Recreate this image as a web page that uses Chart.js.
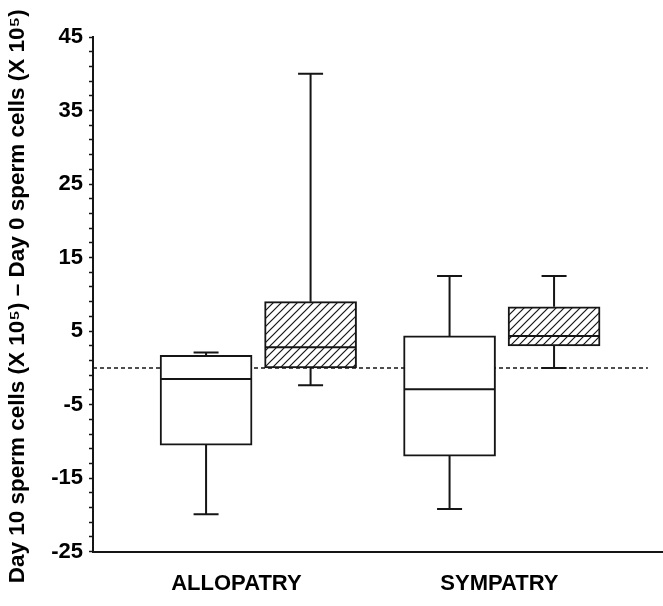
<!DOCTYPE html>
<html>
<head>
<meta charset="utf-8">
<script src="https://cdn.jsdelivr.net/npm/chart.js@4/dist/chart.umd.min.js"></script>
<style>
  body { margin: 0; background: #fff; }
  canvas { display: block; }
</style>
</head>
<body>
<canvas id="chart" width="663" height="606"></canvas>
<script>
// Data (units: X 10^5 cells)
const categories = ['ALLOPATRY', 'SYMPATRY'];

// open (white) boxes
const whiteMin = [-19.9, -19.2];
const whiteQ1 = [-10.5, -12.0];
const whiteMedian = [-1.5, -2.9];
const whiteQ3 = [1.7, 4.35];
const whiteMax = [2.1, 12.5];

// hatched boxes
const hatchMin = [-2.35, 0];
const hatchQ1 = [0, 3.0];
const hatchMedian = [2.8, 4.35];
const hatchQ3 = [9.0, 8.3];
const hatchMax = [40, 12.5];

// y axis tick labels
const yTickLabels = [45, 35, 25, 15, 5, -5, -15, -25];

// layout on the x scale (group centres at 1 and 2)
const groupPos = [1, 2];
const boxOffset = 0.2146;
const labelPos = [0.91, 1.99];
const dashEnd = 2.6;

const ink = '#151515';
const fontFamily = '"Liberation Sans", Arial, sans-serif';

// hatch pattern for the second series
function makeHatch(ctx) {
  const size = 8;
  const c = document.createElement('canvas');
  c.width = size;
  c.height = size;
  const g = c.getContext('2d');
  g.fillStyle = '#fff';
  g.fillRect(0, 0, size, size);
  g.strokeStyle = ink;
  g.lineWidth = 1.2;
  g.beginPath();
  g.moveTo(0, size);
  g.lineTo(size, 0);
  g.moveTo(-2, 2);
  g.lineTo(2, -2);
  g.moveTo(size - 2, size + 2);
  g.lineTo(size + 2, size - 2);
  g.stroke();
  return ctx.createPattern(c, 'repeat');
}

// whiskers, caps, medians, zero line and y title
const boxPlugin = {
  id: 'boxWhiskers',
  beforeDatasetsDraw(chart) {
    const { ctx, chartArea, scales } = chart;
    const y0 = scales.y.getPixelForValue(0);
    ctx.save();
    ctx.strokeStyle = ink;
    ctx.lineWidth = 1.5;
    ctx.setLineDash([4, 3]);
    ctx.beginPath();
    ctx.moveTo(chartArea.left, y0);
    ctx.lineTo(scales.x.getPixelForValue(dashEnd), y0);
    ctx.stroke();
    ctx.restore();
  },
  afterDatasetsDraw(chart) {
    const { ctx, scales } = chart;
    const stats = [
      { min: whiteMin, med: whiteMedian, q1: whiteQ1, q3: whiteQ3, max: whiteMax },
      { min: hatchMin, med: hatchMedian, q1: hatchQ1, q3: hatchQ3, max: hatchMax }
    ];
    const capHalf = 12.5;
    ctx.save();
    ctx.strokeStyle = ink;
    ctx.lineWidth = 2;
    stats.forEach((s, di) => {
      const meta = chart.getDatasetMeta(di);
      meta.data.forEach((bar, i) => {
        const x = bar.x;
        const half = bar.width / 2;
        const py = v => scales.y.getPixelForValue(v);
        ctx.beginPath();
        // median
        ctx.moveTo(x - half + 1, py(s.med[i]));
        ctx.lineTo(x + half - 1, py(s.med[i]));
        // upper whisker
        ctx.moveTo(x, py(s.q3[i]));
        ctx.lineTo(x, py(s.max[i]));
        ctx.moveTo(x - capHalf, py(s.max[i]));
        ctx.lineTo(x + capHalf, py(s.max[i]));
        // lower whisker
        ctx.moveTo(x, py(s.q1[i]));
        ctx.lineTo(x, py(s.min[i]));
        ctx.moveTo(x - capHalf, py(s.min[i]));
        ctx.lineTo(x + capHalf, py(s.min[i]));
        ctx.stroke();
      });
    });
    ctx.restore();
  },
  afterDraw(chart) {
    const { ctx, chartArea } = chart;
    ctx.save();
    ctx.translate(18, (chartArea.top + chartArea.bottom) / 2 + 2);
    ctx.rotate(-Math.PI / 2);
    ctx.font = 'bold 22.5px ' + fontFamily;
    ctx.fillStyle = '#000';
    ctx.textAlign = 'center';
    ctx.textBaseline = 'middle';
    ctx.fillText('Day 10 sperm cells (X 10\u2075) \u2013 Day 0 sperm cells (X 10\u2075)', 0, 0);
    ctx.restore();
  }
};

const canvas = document.getElementById('chart');
const ctx = canvas.getContext('2d');

new Chart(ctx, {
  type: 'bar',
  data: {
    datasets: [
      {
        label: 'open',
        data: groupPos.map((p, i) => ({ x: p - boxOffset, y: [whiteQ1[i], whiteQ3[i]] })),
        backgroundColor: '#fff',
        borderColor: ink,
        borderWidth: 2,
        borderSkipped: false
      },
      {
        label: 'hatched',
        data: groupPos.map((p, i) => ({ x: p + boxOffset, y: [hatchQ1[i], hatchQ3[i]] })),
        backgroundColor: makeHatch(ctx),
        borderColor: ink,
        borderWidth: 2,
        borderSkipped: false
      }
    ]
  },
  options: {
    responsive: false,
    animation: false,
    grouped: false,
    barThickness: 92,
    layout: { padding: { top: 37, right: 0, bottom: 0, left: 0 } },
    plugins: {
      legend: { display: false },
      tooltip: { enabled: false }
    },
    scales: {
      x: {
        type: 'linear',
        min: 0.321,
        max: 2.662,
        offset: false,
        afterBuildTicks: scale => {
          scale.ticks = labelPos.map(v => ({ value: v }));
        },
        afterFit: scale => {
          scale.height = 54.3;
        },
        grid: { display: true, drawOnChartArea: false, drawTicks: false },
        border: { display: true, color: ink, width: 2 },
        ticks: {
          autoSkip: false,
          maxRotation: 0,
          padding: 19,
          color: '#000',
          font: { family: fontFamily, size: 22, weight: 'bold' },
          callback: (value, index) => categories[index]
        }
      },
      y: {
        min: -25,
        max: 45,
        afterFit: scale => {
          scale.width = 93;
        },
        grid: {
          drawOnChartArea: false,
          drawTicks: true,
          tickLength: 4,
          tickColor: ink,
          tickWidth: 1.5
        },
        border: { display: true, color: ink, width: 2 },
        ticks: {
          stepSize: 2,
          maxTicksLimit: 100,
          autoSkip: false,
          padding: 6,
          color: '#000',
          font: { family: fontFamily, size: 22, weight: 'bold' },
          callback: value => (yTickLabels.includes(value) ? String(value) : '')
        }
      }
    }
  },
  plugins: [boxPlugin]
});
</script>
</body>
</html>
